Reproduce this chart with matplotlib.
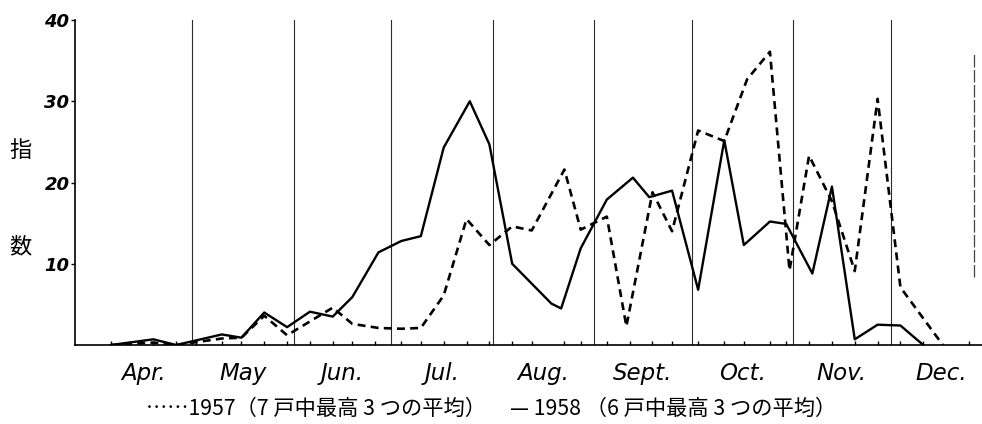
import matplotlib
matplotlib.use("Agg")
import matplotlib.pyplot as plt
import numpy as np

plt.rcParams['font.family'] = ['DejaVu Sans', 'Noto Sans CJK JP']

# ---- data (x = days since April 1) ----
months = ["Apr.", "May", "Jun.", "Jul.", "Aug.", "Sept.", "Oct.", "Nov.", "Dec."]
month_lengths = [30, 31, 30, 31, 31, 30, 31, 30, 31]

days_1958 = [5, 18, 25, 39, 45, 52, 59, 66, 73, 79, 87, 94, 100, 107, 115, 121,
             128, 140, 143, 149, 157, 165, 170, 177, 185, 193, 199, 207, 212,
             220, 226, 233, 240, 247, 254]
vals_1958 = [0, 0.7, 0, 1.3, 0.9, 4.0, 2.2, 4.1, 3.5, 5.9, 11.4, 12.8, 13.4, 24.3,
             30.0, 24.7, 10.0, 5.1, 4.5, 11.9, 17.9, 20.6, 18.2, 19.0, 6.8, 25.2,
             12.3, 15.2, 14.9, 8.8, 19.5, 0.7, 2.5, 2.4, 0]

days_1957 = [5, 18, 25, 39, 45, 52, 59, 73, 79, 87, 94, 100, 107, 114, 121, 128,
             134, 144, 149, 157, 163, 171, 177, 185, 193, 200, 207, 213, 219, 226,
             233, 240, 247, 260]
vals_1957 = [0, 0.3, 0, 0.8, 0.9, 3.6, 1.2, 4.6, 2.6, 2.1, 2.0, 2.1, 6.1, 15.5,
             12.3, 14.6, 14.1, 21.6, 14.2, 15.8, 2.3, 18.8, 14.0, 26.4, 25.1, 32.7,
             36.1, 9.2, 23.3, 17.7, 9.1, 30.3, 7.1, 0]

tick_days = [5, 11, 18, 25, 31, 39, 45, 52, 59, 66, 73, 79, 86, 94, 100, 107, 114,
             121, 128, 134, 144, 149, 157, 164, 171, 177, 185, 193, 199, 207, 212,
             219, 226, 233, 240, 247, 254, 268]
y_ticks = [10, 20, 30, 40]

legend_1957 = "……1957（7 戸中最高 3 つの平均）"
legend_1958 = "— 1958 （6 戸中最高 3 つの平均）"
ylabel_chars = ["指", "数"]

# ---- figure ----
fig = plt.figure(figsize=(9.82, 4.24), dpi=100)
ax = fig.add_axes([0.0764, 0.1863, 0.9236, 0.7665])

month_starts = np.concatenate([[0], np.cumsum(month_lengths)])
for b in month_starts[1:-1]:
    ax.axvline(b, color='#2a2a2a', lw=0.8, zorder=1)
ax.axvline(269.5, ymin=0.21, ymax=0.9, color='#444444', lw=0.9,
           ls=(0, (10, 2)), zorder=1)

ax.plot(days_1957, vals_1957, color='black', lw=1.9,
        ls=(0, (3.0, 2.0)), zorder=3)
ax.plot(days_1958, vals_1958, color='black', lw=1.7, zorder=4)

ax.set_xlim(-6, 272)
ax.set_ylim(0, 40)

for s in ['top', 'right']:
    ax.spines[s].set_visible(False)
for s in ['left', 'bottom']:
    ax.spines[s].set_linewidth(1.2)
    ax.spines[s].set_color('black')

ax.set_yticks(y_ticks)
ax.set_yticklabels([str(v) for v in y_ticks], fontsize=13, fontstyle='italic',
                   fontweight='bold')
ax.tick_params(axis='y', direction='out', length=3, width=1, pad=1)

ax.set_xticks(tick_days)
ax.set_xticklabels([])
ax.tick_params(axis='x', direction='in', length=3, width=1)

# month labels
mids = (month_starts[:-1] + month_starts[1:]) / 2.0
for m, x in zip(months, mids):
    ax.text(x, -3.5, m, ha='center', va='center', fontsize=16.5,
            fontstyle='italic', transform=ax.transData, clip_on=False)

# vertical y label
fig.text(20 / 982, 1 - 150 / 424, ylabel_chars[0], ha='center', va='center',
         fontsize=16, family=['Noto Sans CJK JP'])
fig.text(20 / 982, 1 - 247 / 424, ylabel_chars[1], ha='center', va='center',
         fontsize=16, family=['Noto Sans CJK JP'])

# legend text
fig.text(146 / 982, 1 - 409 / 424, legend_1957, ha='left', va='center',
         fontsize=15.3, family=['Noto Sans CJK JP', 'DejaVu Sans'])
fig.text(510 / 982, 1 - 409 / 424, legend_1958, ha='left', va='center',
         fontsize=15.3, family=['Noto Sans CJK JP', 'DejaVu Sans'])

fig.savefig("out.png", dpi=100)
